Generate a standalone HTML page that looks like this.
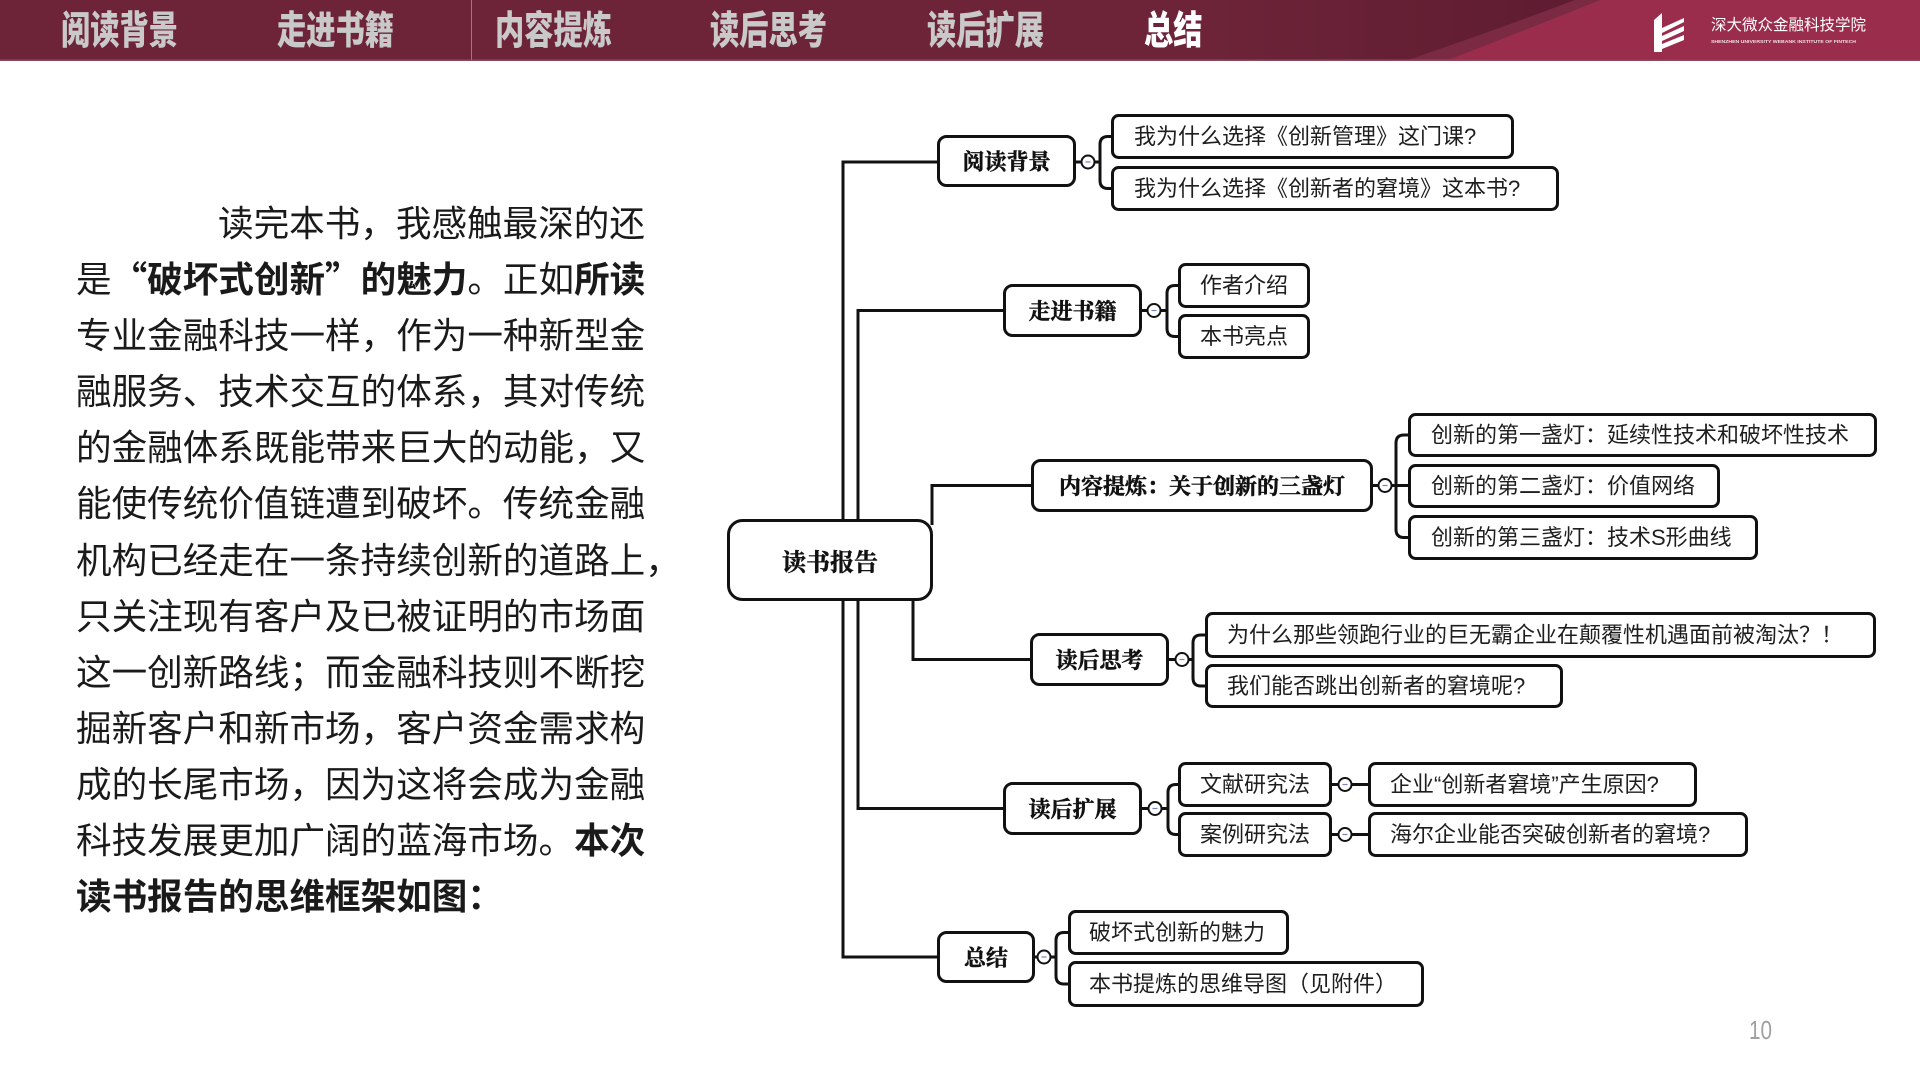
<!DOCTYPE html>
<html>
<head>
<meta charset="utf-8">
<style>
  html, body { margin:0; padding:0; }
  body { width:1920px; height:1080px; position:relative; overflow:hidden; background:#ffffff; }
  .hdr { position:absolute; left:0; top:0; width:1920px; height:61px; }
  .nav { position:absolute; top:0; height:61px; line-height:63px; font-size:39px; font-weight:900;
         font-family:"Liberation Sans","Noto Sans CJK SC",sans-serif; color:#c9c9c9;
         transform:scaleX(0.75); transform-origin:0 0; white-space:nowrap; letter-spacing:0; }
  .para { position:absolute; left:76px; top:194px; font-family:"Noto Sans CJK SC","Liberation Sans",sans-serif;
          font-size:35.6px; color:#1a1a1a; }
  .para div { height:56.1px; line-height:56.1px; white-space:nowrap; }
  .para b { font-weight:600; }
</style>
</head>
<body>

<!-- Header -->
<svg class="hdr" width="1920" height="61" viewBox="0 0 1920 61">
  <defs>
    <linearGradient id="dk" x1="0" y1="0" x2="1" y2="0">
      <stop offset="0" stop-color="#6d2439"/>
      <stop offset="1" stop-color="#5d1b30"/>
    </linearGradient>
  </defs>
  <rect x="0" y="0" width="1920" height="61" fill="#6d2439"/>
  <rect x="1200" y="0" width="420" height="61" fill="url(#dk)"/>
  <path d="M1575 0 Q1490 32 1405 61 L1445 61 Q1525 30 1600 0 Z" fill="#7a2b43"/>
  <path d="M1600 0 Q1525 30 1445 61 L1920 61 L1920 0 Z" fill="#9a2c4c"/>
  <rect x="0" y="59.5" width="1920" height="1.5" fill="#8d4a5c"/>
  <line x1="471.5" y1="0" x2="471.5" y2="60" stroke="#a9707f" stroke-width="1"/>
  <g fill="#ffffff">
    <polygon points="1654,20 1662,13 1662,52 1654,52"/>
    <polygon points="1662,28 1684,18 1684,22 1662,33"/>
    <polygon points="1662,36 1684,26 1684,31 1662,41"/>
    <polygon points="1662,44 1684,35 1684,40 1662,49"/>
  </g>
  <text x="1711" y="30" font-size="15.5" fill="#ffffff" font-family="Liberation Sans, Noto Sans CJK SC, sans-serif">深大微众金融科技学院</text>
  <text x="1711" y="43" font-size="4.6" font-weight="700" fill="#f0dde3" font-family="Liberation Sans, sans-serif" textLength="145" lengthAdjust="spacingAndGlyphs">SHENZHEN UNIVERSITY WEBANK INSTITUTE OF FINTECH</text>
</svg>

<div class="nav" style="left:61px;">阅读背景</div>
<div class="nav" style="left:277px;">走进书籍</div>
<div class="nav" style="left:495px;">内容提炼</div>
<div class="nav" style="left:710px;">读后思考</div>
<div class="nav" style="left:927px;">读后扩展</div>
<div class="nav" style="left:1144px;color:#ffffff;">总结</div>

<!-- Left paragraph -->
<div class="para">
  <div style="padding-left:142px;">读完本书，我感触最深的还</div>
  <div>是<b>“破坏式创新”的魅力</b>。正如<b>所读</b></div>
  <div>专业金融科技一样，作为一种新型金</div>
  <div>融服务、技术交互的体系，其对传统</div>
  <div>的金融体系既能带来巨大的动能，又</div>
  <div>能使传统价值链遭到破坏。传统金融</div>
  <div>机构已经走在一条持续创新的道路上，</div>
  <div>只关注现有客户及已被证明的市场面</div>
  <div>这一创新路线；而金融科技则不断挖</div>
  <div>掘新客户和新市场，客户资金需求构</div>
  <div>成的长尾市场，因为这将会成为金融</div>
  <div>科技发展更加广阔的蓝海市场。<b>本次</b></div>
  <div><b>读书报告的思维框架如图：</b></div>
</div>

<!-- Mind map -->
<svg style="position:absolute;left:0;top:0;" width="1920" height="1080" viewBox="0 0 1920 1080">
  <g fill="none" stroke="#111111" stroke-width="3">
    <path d="M937 162 H843 V957 H937"/>
    <path d="M1003 310.5 H858 V808.5 H1003"/>
    <path d="M932 525 V485.5 H1031"/>
    <path d="M913 598 V659.5 H1030"/>

    <path d="M1076 162 H1081.5 M1094.5 162 H1100"/>
    <path d="M1111 136.5 H1108 Q1100 136.5 1100 144.5 V180.5 Q1100 188.5 1108 188.5 H1111"/>
    <path d="M1142 310.5 H1147.5 M1160.5 310.5 H1167"/>
    <path d="M1178 285.5 H1175 Q1167 285.5 1167 293.5 V328.5 Q1167 336.5 1175 336.5 H1178"/>
    <path d="M1373 485.5 H1378.5 M1391.5 485.5 H1408"/>
    <path d="M1408 435 H1404 Q1396 435 1396 443 V529.5 Q1396 537.5 1404 537.5 H1408"/>
    <path d="M1169 659.5 H1175.5 M1188.5 659.5 H1193"/>
    <path d="M1205 635 H1201 Q1193 635 1193 643 V678 Q1193 686 1201 686 H1205"/>
    <path d="M1142 808.5 H1148.5 M1161.5 808.5 H1168"/>
    <path d="M1178 784.5 H1176 Q1168 784.5 1168 792.5 V826.5 Q1168 834.5 1176 834.5 H1178"/>
    <path d="M1332 784.5 H1338.5 M1351.5 784.5 H1368"/>
    <path d="M1332 834.5 H1338.5 M1351.5 834.5 H1368"/>
    <path d="M1035 957 H1037.5 M1050.5 957 H1056"/>
    <path d="M1068 932.5 H1064 Q1056 932.5 1056 940.5 V976 Q1056 984 1064 984 H1068"/>
  </g>

  <g fill="#ffffff" stroke="#111111" stroke-width="2">
    <circle cx="1088" cy="162" r="6.5"/>
    <circle cx="1154" cy="310.5" r="6.5"/>
    <circle cx="1385" cy="485.5" r="6.5"/>
    <circle cx="1182" cy="659.5" r="6.5"/>
    <circle cx="1155" cy="808.5" r="6.5"/>
    <circle cx="1345" cy="784.5" r="6.5"/>
    <circle cx="1345" cy="834.5" r="6.5"/>
    <circle cx="1044" cy="957" r="6.5"/>
  </g>
  <g stroke="#7a82b8" stroke-width="1.2">
    <path d="M1085.5 162 H1090.5"/>
    <path d="M1151.5 310.5 H1156.5"/>
    <path d="M1382.5 485.5 H1387.5"/>
    <path d="M1179.5 659.5 H1184.5"/>
    <path d="M1152.5 808.5 H1157.5"/>
    <path d="M1342.5 784.5 H1347.5"/>
    <path d="M1342.5 834.5 H1347.5"/>
    <path d="M1041.5 957 H1046.5"/>
  </g>

  <g fill="#ffffff" stroke="#111111" stroke-width="3">
    <rect x="728.5" y="520.5" width="203" height="79" rx="14"/>
    <rect x="938.5" y="136.5" width="136" height="49" rx="8"/>
    <rect x="1004.5" y="285.5" width="136" height="50" rx="8"/>
    <rect x="1032.5" y="460.5" width="339" height="50" rx="8"/>
    <rect x="1031.5" y="634.5" width="136" height="50" rx="8"/>
    <rect x="1004.5" y="783.5" width="136" height="50" rx="8"/>
    <rect x="938.5" y="932.5" width="95" height="49" rx="8"/>

    <rect x="1112.5" y="115.5" width="400" height="42" rx="6"/>
    <rect x="1112.5" y="167.5" width="445" height="42" rx="6"/>
    <rect x="1179.5" y="264.5" width="129" height="42" rx="6"/>
    <rect x="1179.5" y="315.5" width="129" height="42" rx="6"/>
    <rect x="1409.5" y="414.5" width="466" height="41" rx="6"/>
    <rect x="1409.5" y="465.5" width="309" height="41" rx="6"/>
    <rect x="1409.5" y="516.5" width="347" height="42" rx="6"/>
    <rect x="1206.5" y="613.5" width="668" height="43" rx="6"/>
    <rect x="1206.5" y="665.5" width="355" height="41" rx="6"/>
    <rect x="1179.5" y="763.5" width="151" height="42" rx="6"/>
    <rect x="1369.5" y="763.5" width="326" height="42" rx="6"/>
    <rect x="1179.5" y="813.5" width="151" height="42" rx="6"/>
    <rect x="1369.5" y="813.5" width="377" height="42" rx="6"/>
    <rect x="1069.5" y="911.5" width="218" height="42" rx="6"/>
    <rect x="1069.5" y="962.5" width="353" height="43" rx="6"/>
  </g>

  <g fill="#111111" stroke="#111111" stroke-width="0.5" font-weight="700" text-anchor="middle" dominant-baseline="central"
     font-family="Noto Serif CJK SC, Liberation Serif, serif">
    <text x="830" y="560" font-size="24">读书报告</text>
    <text x="1006.5" y="161" font-size="22">阅读背景</text>
    <text x="1072.5" y="310.5" font-size="22">走进书籍</text>
    <text x="1202" y="485.5" font-size="22">内容提炼：关于创新的三盏灯</text>
    <text x="1099.5" y="659.5" font-size="22">读后思考</text>
    <text x="1072.5" y="808.5" font-size="22">读后扩展</text>
    <text x="986" y="957" font-size="22">总结</text>
  </g>

  <g fill="#1e1e1e" font-size="22" dominant-baseline="central" font-family="Liberation Sans, Noto Sans CJK SC, sans-serif">
    <text x="1134" y="136.5">我为什么选择《创新管理》这门课?</text>
    <text x="1134" y="188.5">我为什么选择《创新者的窘境》这本书?</text>
    <text x="1244" y="285.5" text-anchor="middle">作者介绍</text>
    <text x="1244" y="336.5" text-anchor="middle">本书亮点</text>
    <text x="1431" y="435">创新的第一盏灯：延续性技术和破坏性技术</text>
    <text x="1431" y="486">创新的第二盏灯：价值网络</text>
    <text x="1431" y="537.5">创新的第三盏灯：技术S形曲线</text>
    <text x="1227" y="635">为什么那些领跑行业的巨无霸企业在颠覆性机遇面前被淘汰？！</text>
    <text x="1227" y="686">我们能否跳出创新者的窘境呢?</text>
    <text x="1255" y="784.5" text-anchor="middle">文献研究法</text>
    <text x="1390" y="784.5">企业“创新者窘境”产生原因?</text>
    <text x="1255" y="834.5" text-anchor="middle">案例研究法</text>
    <text x="1390" y="834.5">海尔企业能否突破创新者的窘境?</text>
    <text x="1089" y="932.5">破坏式创新的魅力</text>
    <text x="1089" y="984">本书提炼的思维导图（见附件）</text>
  </g>

  <text x="1749" y="1039" font-size="26" fill="#a0a0a0" font-family="Liberation Sans, sans-serif" textLength="23" lengthAdjust="spacingAndGlyphs">10</text>
</svg>

</body>
</html>
